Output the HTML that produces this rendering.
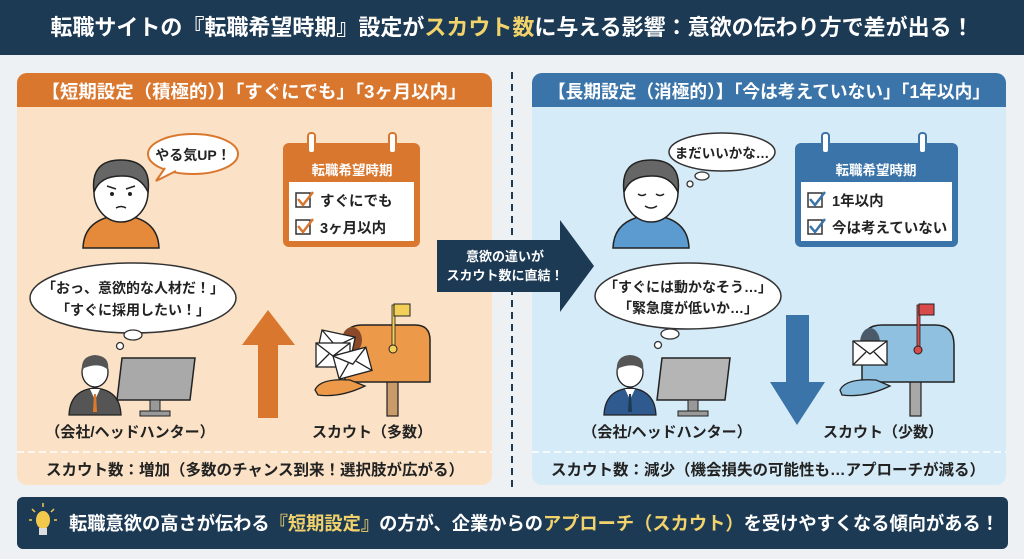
<!DOCTYPE html>
<html><head><meta charset="utf-8"><style>
html,body{margin:0;padding:0;background:#eef1f4;}
svg{display:block;font-family:"Liberation Sans","Noto Sans CJK JP",sans-serif;font-weight:bold;}
</style></head><body>
<svg width="1024" height="559" viewBox="0 0 1024 559" xmlns="http://www.w3.org/2000/svg">
<defs>
<g id="env"><rect x="0" y="0" width="34" height="24" fill="#fff" stroke="#222" stroke-width="1.3"/><path d="M0 0 L17 13 L34 0 M0 24 L13 11 M34 24 L21 11" fill="none" stroke="#222" stroke-width="1.3"/></g>
<g id="chk"><rect x="0" y="0" width="14" height="14" fill="#fff" stroke="#333" stroke-width="1.5"/></g>
</defs>
<rect width="1024" height="559" fill="#eef1f4"/>
<!-- title -->
<rect x="0" y="0" width="1024" height="55" fill="#1d3a55"/>
<text x="512" y="35" text-anchor="middle" font-size="22" fill="#fff">転職サイトの『転職希望時期』設定が<tspan fill="#f2d36b">スカウト数</tspan>に与える影響：意欲の伝わり方で差が出る！</text>

<!-- left panel -->
<rect x="17" y="73" width="475" height="412" rx="10" fill="#fbe2c6"/>
<path d="M17 107 V83 a10 10 0 0 1 10 -10 H482 a10 10 0 0 1 10 10 V107 Z" fill="#d9772e"/>
<text x="254" y="98" text-anchor="middle" font-size="18" fill="#fff" textLength="425" lengthAdjust="spacingAndGlyphs">【短期設定（積極的）】「すぐにでも」「3ヶ月以内」</text>
<line x1="17" y1="452" x2="492" y2="452" stroke="#fff" stroke-width="1.5" stroke-dasharray="7 4"/>
<text x="255" y="475" text-anchor="middle" font-size="15.5" fill="#222">スカウト数：増加（多数のチャンス到来！選択肢が広がる）</text>

<!-- left person -->
<ellipse cx="193" cy="154" rx="45" ry="20" fill="#fff" stroke="#d9772e" stroke-width="2"/>
<path d="M165 168 L156 181 L176 171" fill="#fff" stroke="#d9772e" stroke-width="2"/>
<text x="193" y="160" text-anchor="middle" font-size="14" fill="#222">やる気UP！</text>
<path d="M83 248 Q84 218 121 215 Q158 218 159 248 Z" fill="#e48a3a" stroke="#222" stroke-width="1.5"/>
<rect x="114" y="204" width="14" height="14" fill="#fff" stroke="#222" stroke-width="1.2"/>
<ellipse cx="121" cy="192" rx="27" ry="30" fill="#fff" stroke="#222" stroke-width="1.5"/>
<path d="M94 192 Q90 160 121 160 Q152 160 148 192 Q140 175 121 176 Q100 176 94 192 Z" fill="#666" stroke="#222" stroke-width="1.5"/>
<circle cx="112" cy="194" r="2" fill="#222"/><circle cx="130" cy="194" r="2" fill="#222"/>
<path d="M107 186 L116 189 M135 186 L126 189 M116 208 Q121 205 126 208" stroke="#222" stroke-width="1.5" fill="none"/>

<!-- left calendar -->
<rect x="283" y="143" width="137" height="104" rx="6" fill="#d9772e"/>
<rect x="289" y="182" width="125" height="59" fill="#fff"/>
<rect x="308" y="133" width="7" height="20" rx="3" fill="#fff" stroke="#d9772e" stroke-width="2"/>
<rect x="389" y="133" width="7" height="20" rx="3" fill="#fff" stroke="#d9772e" stroke-width="2"/>
<text x="352" y="175" text-anchor="middle" font-size="13.5" fill="#fff">転職希望時期</text>
<use href="#chk" x="296" y="193"/><path d="M298 199 L303 205 L313 192" stroke="#d9772e" stroke-width="2.5" fill="none"/>
<use href="#chk" x="296" y="220"/><path d="M298 226 L303 232 L313 219" stroke="#d9772e" stroke-width="2.5" fill="none"/>
<text x="320" y="206" font-size="14.5" fill="#222">すぐにでも</text>
<text x="320" y="233" font-size="14.5" fill="#222">3ヶ月以内</text>

<!-- left company -->
<ellipse cx="133" cy="298" rx="103" ry="35" fill="#fff" stroke="#333" stroke-width="1.5"/>
<text x="133" y="293" text-anchor="middle" font-size="14" fill="#222">「おっ、意欲的な人材だ！」</text>
<text x="133" y="315" text-anchor="middle" font-size="14" fill="#222">「すぐに採用したい！」</text>
<ellipse cx="133" cy="335" rx="9" ry="5" fill="#fff" stroke="#333" stroke-width="1.3"/>
<circle cx="120" cy="346" r="3.5" fill="#fff" stroke="#333" stroke-width="1.3"/>
<path d="M69 415 Q70 390 95 388 Q120 390 121 415 Z" fill="#555" stroke="#222" stroke-width="1.3"/>
<path d="M90 389 L95 400 L100 389 Z" fill="#fff"/><path d="M94 394 L96 394 L97 412 L93 412 Z" fill="#e07a2a"/>
<ellipse cx="95" cy="372" rx="13" ry="15" fill="#fff" stroke="#222" stroke-width="1.3"/>
<path d="M82 372 Q80 356 95 355 Q110 356 108 370 Q100 362 84 368 Z" fill="#555"/>
<path d="M122 358 L195 358 L190 400 L117 400 Z" fill="#a9a9a9" stroke="#222" stroke-width="1.5"/>
<rect x="150" y="400" width="10" height="12" fill="#999" stroke="#222"/><rect x="140" y="411" width="30" height="5" fill="#999" stroke="#222"/>
<text x="130" y="437" text-anchor="middle" font-size="15" fill="#222">（会社/ヘッドハンター）</text>

<!-- up arrow -->
<path d="M258 418 V345 H242 L268 310 L295 345 H278 V418 Z" fill="#d9772e"/>

<!-- left mailbox -->
<rect x="387" y="380" width="11" height="36" fill="#c99a6a" stroke="#222" stroke-width="1.2"/>
<path d="M345 382 V340 Q345 325 362 325 H415 Q430 325 430 340 V382 Z" fill="#ec9a4a" stroke="#222" stroke-width="1.5"/>
<ellipse cx="352" cy="340" rx="10" ry="13" fill="#8a4a2a"/>
<rect x="392" y="305" width="3" height="45" fill="#f2cf58" stroke="#222" stroke-width="0.8"/>
<rect x="394" y="304" width="16" height="12" fill="#f2cf58" stroke="#222" stroke-width="1"/>
<circle cx="393" cy="349" r="4" fill="#f2cf58" stroke="#222"/>
<path d="M315 390 Q320 378 350 380 L365 386 Q340 398 318 395 Z" fill="#ec9a4a" stroke="#222" stroke-width="1.3"/>
<use href="#env" transform="translate(322 330) rotate(12)"/>
<use href="#env" x="316" y="343"/>
<use href="#env" transform="translate(333 356) rotate(-15)"/>
<text x="372" y="437" text-anchor="middle" font-size="15" fill="#222">スカウト（多数）</text>

<!-- divider -->
<line x1="512" y1="72" x2="512" y2="488" stroke="#1d3a55" stroke-width="2" stroke-dasharray="7 5"/>

<!-- right panel -->
<rect x="532" y="73" width="474" height="412" rx="10" fill="#d6ebf8"/>
<path d="M532 107 V83 a10 10 0 0 1 10 -10 H996 a10 10 0 0 1 10 10 V107 Z" fill="#3b74a8"/>
<text x="769" y="98" text-anchor="middle" font-size="18" fill="#fff" textLength="442" lengthAdjust="spacingAndGlyphs">【長期設定（消極的）】「今は考えていない」「1年以内」</text>
<line x1="532" y1="452" x2="1006" y2="452" stroke="#fff" stroke-width="1.5" stroke-dasharray="7 4"/>
<text x="768" y="475" text-anchor="middle" font-size="15.5" fill="#222">スカウト数：減少（機会損失の可能性も…アプローチが減る）</text>

<!-- right person -->
<ellipse cx="722" cy="152" rx="53" ry="19" fill="#fff" stroke="#333" stroke-width="1.5"/>
<ellipse cx="702" cy="176" rx="7" ry="4" fill="#fff" stroke="#333" stroke-width="1.3"/>
<circle cx="690" cy="184" r="3" fill="#fff" stroke="#333" stroke-width="1.3"/>
<text x="722" y="158" text-anchor="middle" font-size="13.5" fill="#222">まだいいかな…</text>
<path d="M613 248 Q614 218 651 215 Q688 218 689 248 Z" fill="#5b9bd0" stroke="#222" stroke-width="1.5"/>
<rect x="644" y="204" width="14" height="14" fill="#fff" stroke="#222" stroke-width="1.2"/>
<ellipse cx="651" cy="192" rx="27" ry="30" fill="#fff" stroke="#222" stroke-width="1.5"/>
<path d="M624 192 Q620 160 651 160 Q682 160 678 192 Q670 175 651 176 Q630 176 624 192 Z" fill="#666" stroke="#222" stroke-width="1.5"/>
<path d="M638 194 Q642 197 646 194 M656 194 Q660 197 664 194 M645 206 Q651 210 657 206" stroke="#222" stroke-width="1.5" fill="none"/>

<!-- right calendar -->
<rect x="795" y="143" width="163" height="104" rx="6" fill="#3b74a8"/>
<rect x="801" y="182" width="151" height="59" fill="#fff"/>
<rect x="822" y="133" width="7" height="20" rx="3" fill="#fff" stroke="#3b74a8" stroke-width="2"/>
<rect x="919" y="133" width="7" height="20" rx="3" fill="#fff" stroke="#3b74a8" stroke-width="2"/>
<text x="876" y="175" text-anchor="middle" font-size="13.5" fill="#fff">転職希望時期</text>
<use href="#chk" x="808" y="193"/><path d="M810 199 L815 205 L825 192" stroke="#3b74a8" stroke-width="2.5" fill="none"/>
<use href="#chk" x="808" y="220"/><path d="M810 226 L815 232 L825 219" stroke="#3b74a8" stroke-width="2.5" fill="none"/>
<text x="832" y="206" font-size="14.5" fill="#222">1年以内</text>
<text x="832" y="233" font-size="14.5" fill="#222">今は考えていない</text>

<!-- right company -->
<ellipse cx="688" cy="296" rx="93" ry="33" fill="#fff" stroke="#333" stroke-width="1.5"/>
<text x="688" y="292" text-anchor="middle" font-size="14" fill="#222">「すぐには動かなそう…」</text>
<text x="688" y="313" text-anchor="middle" font-size="14" fill="#222">「緊急度が低いか…」</text>
<ellipse cx="670" cy="334" rx="9" ry="5" fill="#fff" stroke="#333" stroke-width="1.3"/>
<circle cx="658" cy="345" r="3.5" fill="#fff" stroke="#333" stroke-width="1.3"/>
<path d="M604 415 Q605 390 630 388 Q655 390 656 415 Z" fill="#2f5a8f" stroke="#222" stroke-width="1.3"/>
<path d="M625 389 L630 400 L635 389 Z" fill="#fff"/><path d="M629 394 L631 394 L632 412 L628 412 Z" fill="#1d3a55"/>
<ellipse cx="630" cy="372" rx="13" ry="15" fill="#fff" stroke="#222" stroke-width="1.3"/>
<path d="M617 372 Q615 356 630 355 Q645 356 643 370 Q635 362 619 368 Z" fill="#555"/>
<path d="M662 358 L730 358 L725 400 L657 400 Z" fill="#b5b5b5" stroke="#222" stroke-width="1.5"/>
<rect x="688" y="400" width="10" height="12" fill="#999" stroke="#222"/><rect x="678" y="411" width="30" height="5" fill="#999" stroke="#222"/>
<text x="667" y="437" text-anchor="middle" font-size="15" fill="#222">（会社/ヘッドハンター）</text>

<!-- down arrow -->
<path d="M786 315 V382 H770 L797 425 L825 382 H809 V315 Z" fill="#3b74a8"/>

<!-- right mailbox -->
<rect x="910" y="380" width="11" height="36" fill="#a8a8a8" stroke="#222" stroke-width="1.2"/>
<path d="M862 382 V345 Q862 325 882 325 H935 Q954 325 954 345 V382 Z" fill="#8fc0df" stroke="#222" stroke-width="1.5"/>
<ellipse cx="870" cy="343" rx="10" ry="15" fill="#4a5a68"/>
<rect x="917" y="305" width="3" height="45" fill="#d94a4a" stroke="#222" stroke-width="0.8"/>
<rect x="919" y="304" width="15" height="11" fill="#d94a4a" stroke="#222" stroke-width="1"/>
<circle cx="918" cy="350" r="4" fill="#d94a4a" stroke="#222"/>
<path d="M840 390 Q846 378 876 380 L890 386 Q865 398 842 395 Z" fill="#8fc0df" stroke="#222" stroke-width="1.3"/>
<use href="#env" x="853" y="341"/>
<text x="883" y="437" text-anchor="middle" font-size="15" fill="#222">スカウト（少数）</text>

<!-- center arrow -->
<path d="M437 240 H560 V220 L594 266 L560 312 V292 H437 Z" fill="#1d3a55"/>
<text x="505" y="261" text-anchor="middle" font-size="13" fill="#fff">意欲の違いが</text>
<text x="505" y="280" text-anchor="middle" font-size="13" fill="#fff">スカウト数に直結！</text>

<!-- bottom -->
<rect x="17" y="497" width="991" height="52" rx="6" fill="#1d3a55"/>
<ellipse cx="43" cy="520" rx="7" ry="9" fill="#f2c94c"/>
<rect x="39" y="528" width="8" height="7" fill="#ddd"/>
<path d="M43 503 V507 M32 509 L35 512 M54 509 L51 512 M29 520 H32 M54 520 H57" stroke="#f2c94c" stroke-width="1.5"/>
<text x="534" y="530" text-anchor="middle" font-size="18.5" fill="#fff" textLength="930" lengthAdjust="spacingAndGlyphs">転職意欲の高さが伝わる<tspan fill="#f2d36b">『短期設定』</tspan>の方が、企業からの<tspan fill="#f2d36b">アプローチ（スカウト）</tspan>を受けやすくなる傾向がある！</text>
</svg>
</body></html>
